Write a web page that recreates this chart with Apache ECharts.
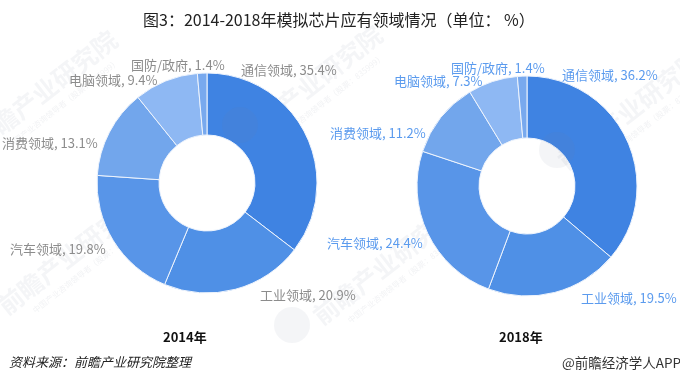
<!DOCTYPE html>
<html><head><meta charset="utf-8">
<style>html,body{margin:0;padding:0;background:#fff}#c{width:680px;height:383px}</style>
<script src="https://cdn.jsdelivr.net/npm/echarts@6/dist/echarts.min.js"></script>
</head><body><div id="c"></div>
<script>
const categories = ['通信领域','工业领域','汽车领域','消费领域','电脑领域','国防/政府'];
const values2014 = [35.4,20.9,19.8,13.1,9.4,1.4];
const values2018 = [36.2,19.5,24.4,11.2,7.3,1.4];
const sliceColors = ['#3f83e2','#4f90e6','#5895e8','#72a6ec','#8eb8f3','#78a9ee'];
const labelPos2014 = [[241,70],[260,295],[10,249],[2,143],[69,80],[131,65]];
const labelPos2018 = [[562,75],[581,298],[327,243],[330,133],[394,81],[451,68]];
const FONT = '"Noto Sans CJK SC","Noto Sans",sans-serif';

function pie(values, center, pos, color){
  return {
    type:'pie', center:center, radius:[48,110], startAngle:90, clockwise:true, animation:false, silent:true,
    data:categories.map((c,i)=>({name:c,value:values[i],itemStyle:{color:sliceColors[i]}})),
    itemStyle:{borderColor:'#eef4fd',borderWidth:1},
    label:{show:true,formatter:p=>p.name+', '+p.value.toFixed(1)+'%',color:color,fontSize:13,fontFamily:FONT,overflow:'none',width:140},
    labelLine:{show:false},
    labelLayout:p=>({x:pos[p.dataIndex][0],y:pos[p.dataIndex][1],align:'left',verticalAlign:'middle',hideOverlap:false,moveOverlap:false})
  };
}
function mark(x,y){
  return {type:'group',x:x,y:y,rotation:Math.PI*38/180,z:50,silent:true,children:[
    {type:'text',style:{x:0,y:0,text:'前瞻产业研究院',font:'bold 25px '+FONT,fill:'rgba(120,130,150,0.08)',textAlign:'center',textVerticalAlign:'middle'}},
    {type:'text',style:{x:6,y:22,text:'中国产业咨询领导者（股票：835999）',font:'8px '+FONT,fill:'rgba(120,130,150,0.10)',textAlign:'center',textVerticalAlign:'middle'}}
  ]};
}
function logo(x,y){
  return {type:'circle',z:49,silent:true,shape:{cx:x,cy:y,r:18},style:{fill:'rgba(120,130,150,0.08)'}};
}
const chart = echarts.init(document.getElementById('c'),null,{renderer:'canvas'});
chart.setOption({
  backgroundColor:'#fff',
  animation:false,
  title:[
    {text:'图3：2014-2018年模拟芯片应有领域情况（单位： %）',left:138,top:7,textStyle:{fontSize:16,fontWeight:'normal',color:'#222',fontFamily:FONT}},
    {text:'2014年',left:158,top:326,textStyle:{fontSize:13,fontWeight:'bold',color:'#111',fontFamily:FONT}},
    {text:'2018年',left:494,top:326,textStyle:{fontSize:13,fontWeight:'bold',color:'#111',fontFamily:FONT}},
    {text:'资料来源：前瞻产业研究院整理',left:4,top:351,textStyle:{fontSize:13,fontWeight:'normal',fontStyle:'italic',color:'#222',fontFamily:FONT}},
    {text:'@前瞻经济学人APP',left:557,top:351,textStyle:{fontSize:13.5,fontWeight:'normal',color:'#333',fontFamily:FONT}}
  ],
  series:[
    pie(values2014,[207,183],labelPos2014,'#8c8c8c'),
    pie(values2018,[527,186],labelPos2018,'#5b9bee')
  ],
  graphic:[mark(45,90),mark(70,255),mark(310,85),mark(385,265),mark(630,110),
           logo(240,125),logo(557,150),logo(292,325)]
});
</script></body></html>
